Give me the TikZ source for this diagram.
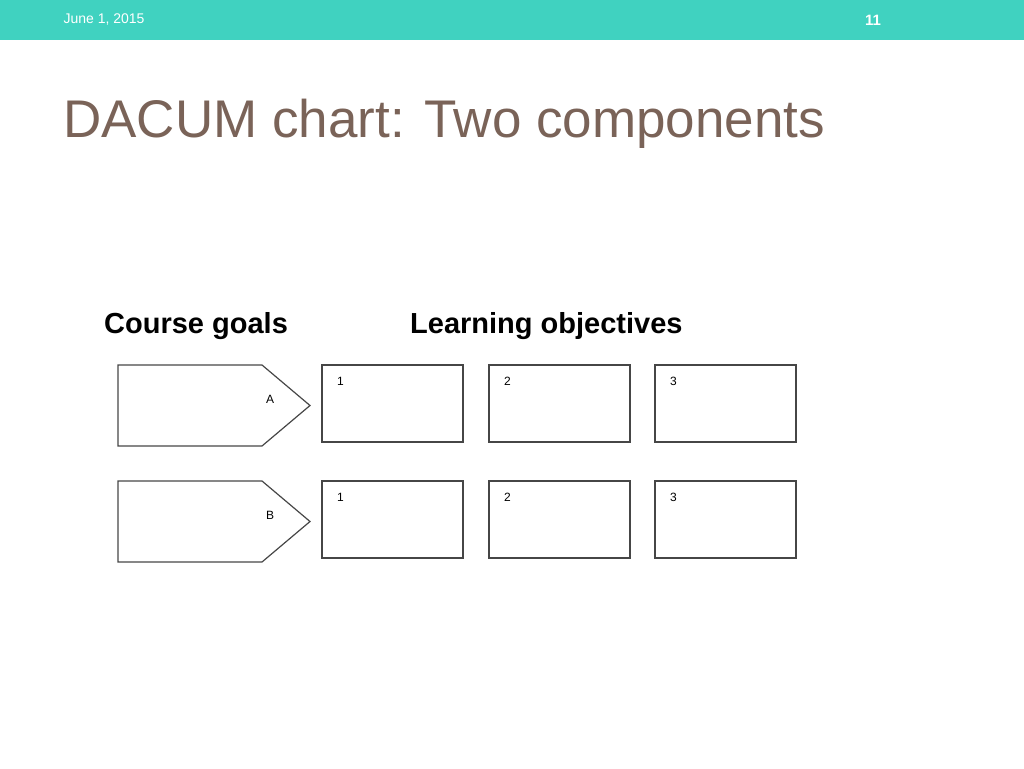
\documentclass[tikz,border=0pt]{standalone}
\usepackage{fontspec}
\setmainfont{Liberation Sans}
\usetikzlibrary{positioning}
\definecolor{band}{RGB}{64,210,192}
\definecolor{titlebrown}{RGB}{122,99,88}
\definecolor{boxline}{RGB}{70,70,70}
\tikzset{
  goalbox/.style={draw=boxline, line width=1.2pt},
  objbox/.style={draw=boxline, line width=1.2pt, minimum width=141pt, minimum height=77pt, inner sep=0pt},
  num/.style={font=\fontsize{12}{14}\selectfont, anchor=center}
}
\begin{document}
\begin{tikzpicture}[x=1pt, y=-1pt]
  \useasboundingbox (0,0) rectangle (1024,768);
  % header band
  \fill[band] (0,0) rectangle (1024,40);
  \node[anchor=west, text=white, font=\fontsize{14}{16}\selectfont] (date) at (60,20) {June 1, 2015};
  \node[text=white, font=\bfseries\fontsize{15}{17}\selectfont] (page) at (873,20) {11};
  % title
  \node[anchor=base west, text=titlebrown, inner sep=0pt, font=\fontsize{53}{60}\selectfont] (title) at (63,137) {DACUM chart: Two components};
  % headings
  \node[anchor=base west, inner sep=0pt, font=\bfseries\fontsize{29}{34}\selectfont] (goals) at (104,333) {Course goals};
  \node[anchor=base west, inner sep=0pt, font=\bfseries\fontsize{29}{34}\selectfont] (objectives) at (410,333) {Learning objectives};
  % goal arrows
  \foreach \row/\y/\lab in {a/365/A, b/481/B} {
    \draw[goalbox] (118,\y) -- (262,\y) -- (310,\y+40.5) -- (262,\y+81) -- (118,\y+81) -- cycle;
    \node[num] (goal\row) at (270,\y+34) {\lab};
    \foreach \i/\x in {1/392.5, 2/559.5, 3/725.5} {
      \node[objbox] (obj\row\i) at (\x,\y+38.5) {};
      \node[num] at ([xshift=19pt, yshift=-17pt]obj\row\i.north west) {\i};
    }
  }
\end{tikzpicture}
\end{document}
